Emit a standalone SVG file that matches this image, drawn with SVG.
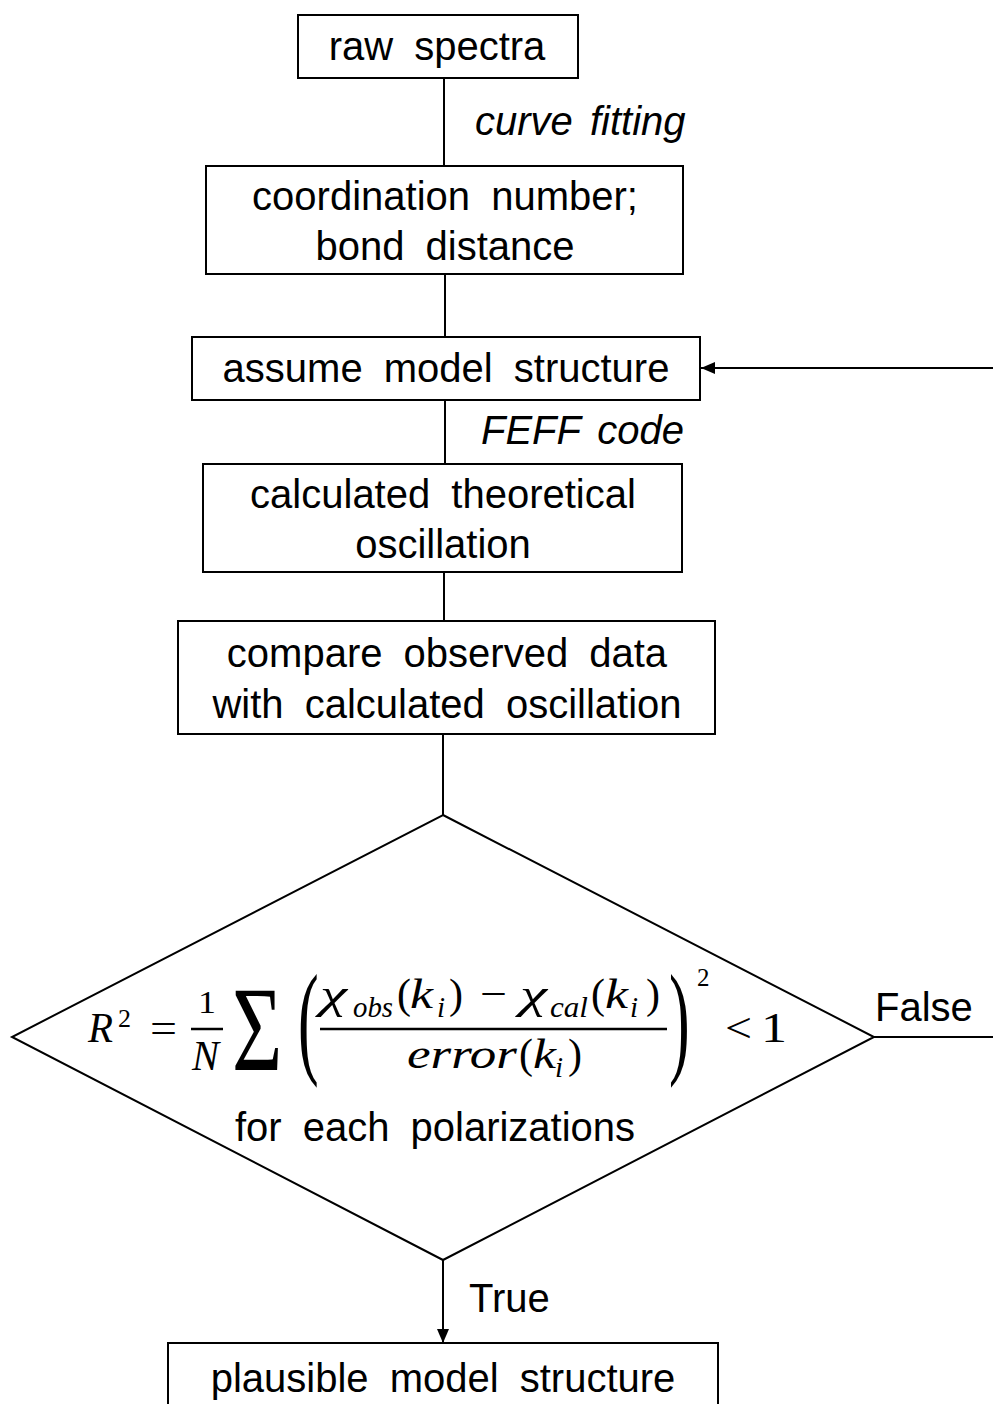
<svg xmlns="http://www.w3.org/2000/svg" width="993" height="1404" viewBox="0 0 993 1404">
<style>
.box{fill:#fff;stroke:#000;stroke-width:2}
.t{font-family:"Liberation Sans",Arial,sans-serif;font-size:40px;fill:#000;word-spacing:10px;text-anchor:middle}
.lbl{font-family:"Liberation Sans",Arial,sans-serif;font-size:40px;fill:#000;word-spacing:6px}
.it{font-style:italic}
.edge{fill:none;stroke:#000;stroke-width:2}
.m{font-family:"Liberation Serif","Times New Roman",serif;font-size:42px;fill:#000;font-style:italic}
.mu{font-family:"Liberation Serif","Times New Roman",serif;font-size:42px;fill:#000}
.ms{font-family:"Liberation Serif","Times New Roman",serif;font-size:29px;fill:#000;font-style:italic}
</style>
<defs>
<marker id="arrB" viewBox="0 0 14 12" refX="14" refY="6" markerWidth="14" markerHeight="12" markerUnits="userSpaceOnUse" orient="auto">
<path d="M0,0 L14,6 L0,12 z" fill="#000"/>
</marker>
</defs>
<rect width="993" height="1404" fill="#fff"/>
<g id="connectors">
<line class="edge" x1="444" y1="78" x2="444" y2="166"/>
<line class="edge" x1="445" y1="274" x2="445" y2="337"/>
<line class="edge" x1="445" y1="400" x2="445" y2="464"/>
<line class="edge" x1="444" y1="572" x2="444" y2="621"/>
<line class="edge" x1="443" y1="734" x2="443" y2="815"/>
<line class="edge" x1="443" y1="1260" x2="443" y2="1343" marker-end="url(#arrB)"/>
<path class="edge" d="M874,1037 H998 V368 H701" marker-end="url(#arrB)"/>
<text class="lbl it" x="475" y="135">curve fitting</text>
<text class="lbl it" x="481" y="444">FEFF code</text>
<text class="lbl" x="875" y="1021">False</text>
<text class="lbl" x="469" y="1312">True</text>
</g>
<g id="n1">
<rect class="box" x="298" y="15" width="280" height="63"/>
<text class="t" x="437" y="60">raw spectra</text>
</g>
<g id="n2">
<rect class="box" x="206" y="166" width="477" height="108"/>
<text class="t" x="445" y="210">coordination number;</text>
<text class="t" x="445" y="260">bond distance</text>
</g>
<g id="n3">
<rect class="box" x="192" y="337" width="508" height="63"/>
<text class="t" x="446" y="382">assume model structure</text>
</g>
<g id="n4">
<rect class="box" x="203" y="464" width="479" height="108"/>
<text class="t" x="443" y="508">calculated theoretical</text>
<text class="t" x="443" y="558">oscillation</text>
</g>
<g id="n5">
<rect class="box" x="178" y="621" width="537" height="113"/>
<text class="t" x="447" y="667">compare observed data</text>
<text class="t" x="447" y="718">with calculated oscillation</text>
</g>
<g id="n6">
<polygon class="box" points="443,815 874,1037 443,1260 12,1037"/>
<text class="m" x="88" y="1042" textLength="25" lengthAdjust="spacingAndGlyphs">R</text>
<text class="mu" x="118" y="1027" style="font-size:26px">2</text>
<text class="mu" x="150" y="1042" textLength="27" lengthAdjust="spacingAndGlyphs">=</text>
<text class="mu" x="198" y="1013" style="font-size:32px" textLength="18" lengthAdjust="spacingAndGlyphs">1</text>
<line x1="191" y1="1029" x2="223" y2="1029" stroke="#000" stroke-width="2.5"/>
<text class="m" x="192" y="1070" textLength="27" lengthAdjust="spacingAndGlyphs">N</text>
<text class="mu" transform="translate(232,1070) scale(1.08,1.5)" x="0" y="0" style="font-size:80px">Σ</text>
<text class="mu" transform="translate(298,1061) scale(1,2)" x="0" y="0" style="font-size:62px">(</text>
<text class="m" x="320" y="1008" textLength="27" lengthAdjust="spacingAndGlyphs">χ</text>
<text class="ms" x="353" y="1017" textLength="40" lengthAdjust="spacingAndGlyphs">obs</text>
<text class="mu" x="397" y="1008">(</text>
<text class="m" x="410" y="1008" textLength="23" lengthAdjust="spacingAndGlyphs">k</text>
<text class="ms" x="437" y="1017">i</text>
<text class="mu" x="449" y="1008">)</text>
<text class="mu" x="480" y="1008" textLength="27" lengthAdjust="spacingAndGlyphs">−</text>
<text class="m" x="520" y="1008" textLength="27" lengthAdjust="spacingAndGlyphs">χ</text>
<text class="ms" x="550" y="1017" textLength="38" lengthAdjust="spacingAndGlyphs">cal</text>
<text class="mu" x="591" y="1008">(</text>
<text class="m" x="605" y="1008" textLength="23" lengthAdjust="spacingAndGlyphs">k</text>
<text class="ms" x="630" y="1017">i</text>
<text class="mu" x="646" y="1008">)</text>
<line x1="320" y1="1029" x2="667" y2="1029" stroke="#000" stroke-width="2.5"/>
<text class="m" x="407" y="1068" textLength="110" lengthAdjust="spacingAndGlyphs">error</text>
<text class="mu" x="519" y="1068">(</text>
<text class="m" x="533" y="1068" textLength="23" lengthAdjust="spacingAndGlyphs">k</text>
<text class="ms" x="555" y="1077">i</text>
<text class="mu" x="568" y="1068">)</text>
<text class="mu" transform="translate(669,1061) scale(1,2)" x="0" y="0" style="font-size:62px">)</text>
<text class="mu" x="697" y="986" style="font-size:25px">2</text>
<text class="mu" x="725" y="1042" textLength="27" lengthAdjust="spacingAndGlyphs">&lt;</text>
<text class="mu" x="761" y="1042" textLength="26" lengthAdjust="spacingAndGlyphs">1</text>
<text class="t" x="435" y="1141">for each polarizations</text>
</g>
<g id="n7">
<rect class="box" x="168" y="1343" width="550" height="80"/>
<text class="t" x="443" y="1392">plausible model structure</text>
</g>
</svg>
